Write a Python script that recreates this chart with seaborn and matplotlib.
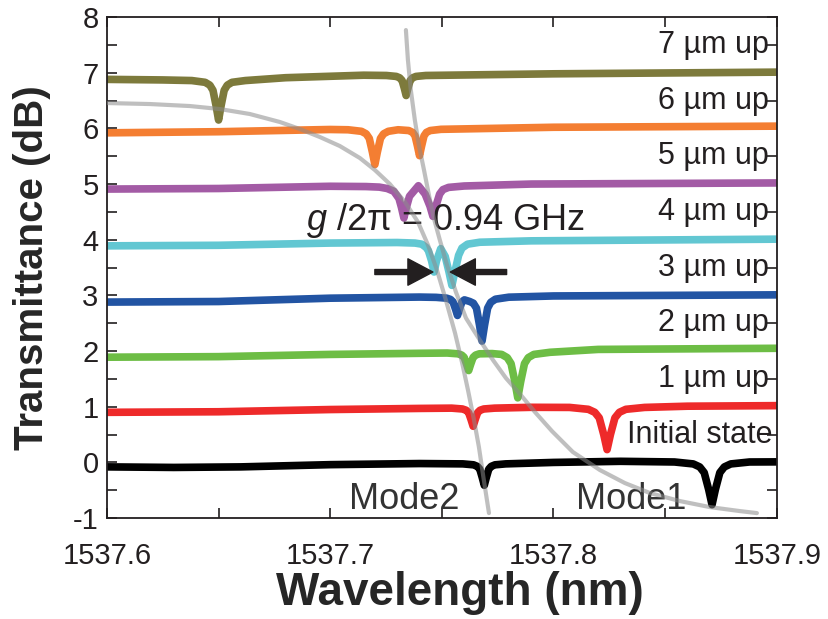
import matplotlib
matplotlib.use('Agg')
import matplotlib.pyplot as plt
import seaborn as sns

# Spectra (wavelength in nm, transmittance in dB, offset by 1 dB per step)
wl_0 = [1537.600, 1537.630, 1537.660, 1537.700, 1537.740, 1537.7594, 1537.7642, 1537.7659, 1537.767, 1537.7681,
        1537.769, 1537.7699, 1537.771, 1537.7721, 1537.7738, 1537.7786, 1537.800, 1537.830, 1537.8542, 1537.8626,
        1537.8655, 1537.8675, 1537.8695, 1537.871, 1537.8725, 1537.8745, 1537.8765, 1537.8794, 1537.8878, 1537.900]
tr_0 = [-0.08, -0.09, -0.08, -0.04, -0.02, -0.026, -0.043, -0.071, -0.121, -0.274,
        -0.41, -0.274, -0.121, -0.071, -0.043, -0.026, 0.00, 0.02, 0.008, -0.027,
        -0.081, -0.183, -0.487, -0.76, -0.487, -0.183, -0.081, -0.027, 0.008, 0.01]

wl_1 = [1537.600, 1537.650, 1537.700, 1537.740, 1537.7544, 1537.7592, 1537.7609, 1537.762, 1537.7631, 1537.764,
        1537.7649, 1537.766, 1537.7671, 1537.7688, 1537.7736, 1537.790, 1537.8072, 1537.8156, 1537.8185, 1537.8205,
        1537.8225, 1537.824, 1537.8255, 1537.8275, 1537.8295, 1537.8324, 1537.8408, 1537.860, 1537.900]
tr_1 = [0.90, 0.91, 0.95, 0.97, 0.975, 0.96, 0.937, 0.894, 0.766, 0.65,
        0.766, 0.894, 0.937, 0.96, 0.975, 0.99, 0.988, 0.954, 0.90, 0.80,
        0.50, 0.23, 0.50, 0.80, 0.90, 0.954, 0.988, 1.01, 1.02]

wl_2 = [1537.600, 1537.650, 1537.700, 1537.740, 1537.7524, 1537.7572, 1537.7589, 1537.760, 1537.7611, 1537.762,
        1537.7629, 1537.764, 1537.7651, 1537.7668, 1537.7725, 1537.7768, 1537.7793, 1537.781, 1537.7827, 1537.784,
        1537.7853, 1537.787, 1537.7887, 1537.7912, 1537.7984, 1537.820, 1537.900]
tr_2 = [1.89, 1.90, 1.94, 1.96, 1.965, 1.951, 1.928, 1.887, 1.762, 1.65,
        1.762, 1.887, 1.928, 1.951, 1.955, 1.940, 1.882, 1.774, 1.450, 1.16,
        1.450, 1.774, 1.882, 1.940, 1.978, 2.03, 2.05]

wl_3 = [1537.600, 1537.650, 1537.700, 1537.740, 1537.7474, 1537.7522, 1537.7539, 1537.755, 1537.7561, 1537.757,
        1537.7579, 1537.759, 1537.7601, 1537.7625, 1537.7641, 1537.7655, 1537.7669, 1537.768, 1537.7691, 1537.7705,
        1537.7719, 1537.774, 1537.780, 1537.800, 1537.900]
tr_3 = [2.88, 2.89, 2.95, 2.97, 2.965, 2.95, 2.927, 2.884, 2.755, 2.64,
        2.755, 2.884, 2.92, 2.89, 2.86, 2.77, 2.46, 2.18, 2.46, 2.772,
        2.876, 2.932, 2.968, 2.99, 3.01]

wl_4 = [1537.600, 1537.650, 1537.700, 1537.730, 1537.738, 1537.741, 1537.743, 1537.744, 1537.7454, 1537.7465,
        1537.7476, 1537.7495, 1537.7515, 1537.7532, 1537.7545, 1537.7558, 1537.7575, 1537.759, 1537.7615, 1537.767,
        1537.790, 1537.900]
tr_4 = [3.89, 3.90, 3.94, 3.95, 3.94, 3.92, 3.86, 3.80, 3.62, 3.42,
        3.62, 3.84, 3.70, 3.42, 3.18, 3.42, 3.72, 3.85, 3.92, 3.955,
        3.98, 4.01]

wl_5 = [1537.600, 1537.650, 1537.700, 1537.716, 1537.722, 1537.7255, 1537.7285, 1537.7308, 1537.7319, 1537.733,
        1537.7341, 1537.7355, 1537.7395, 1537.7425, 1537.7447, 1537.746, 1537.7473, 1537.749, 1537.7505, 1537.753,
        1537.760, 1537.790, 1537.900]
tr_5 = [4.91, 4.92, 4.96, 4.955, 4.945, 4.92, 4.87, 4.74, 4.58, 4.39,
        4.58, 4.78, 4.97, 4.82, 4.60, 4.42, 4.60, 4.82, 4.90, 4.94,
        4.965, 5.00, 5.02]

wl_6 = [1537.600, 1537.650, 1537.700, 1537.708, 1537.714, 1537.7161, 1537.7175, 1537.7189, 1537.720, 1537.7211,
        1537.7225, 1537.7239, 1537.726, 1537.7304, 1537.7352, 1537.7369, 1537.738, 1537.7391, 1537.740, 1537.7409,
        1537.742, 1537.7431, 1537.7448, 1537.7496, 1537.800, 1537.900]
tr_6 = [5.92, 5.94, 5.98, 5.975, 5.947, 5.902, 5.82, 5.572, 5.35, 5.572,
        5.82, 5.902, 5.947, 5.975, 5.961, 5.928, 5.865, 5.678, 5.51, 5.678,
        5.865, 5.928, 5.961, 5.983, 6.02, 6.04]

wl_7 = [1537.600, 1537.625, 1537.638, 1537.644, 1537.6461, 1537.6475, 1537.6489, 1537.650, 1537.6511, 1537.6525,
        1537.6539, 1537.656, 1537.662, 1537.680, 1537.715, 1537.7252, 1537.7296, 1537.7311, 1537.7322, 1537.7332,
        1537.734, 1537.7348, 1537.7358, 1537.7369, 1537.7384, 1537.7428, 1537.800, 1537.900]
tr_7 = [6.88, 6.87, 6.859, 6.827, 6.776, 6.683, 6.402, 6.15, 6.402, 6.683,
        6.776, 6.827, 6.859, 6.91, 6.955, 6.95, 6.933, 6.908, 6.86, 6.718,
        6.59, 6.718, 6.86, 6.908, 6.933, 6.95, 6.98, 7.01]

# Anti-crossing guide curves (gray)
branch_lo_wl = [1537.6000, 1537.6193, 1537.6372, 1537.6506, 1537.6640, 1537.6775, 1537.6864, 1537.6954,
                1537.7043, 1537.7133, 1537.7200, 1537.7267, 1537.7335, 1537.7393, 1537.7438, 1537.7478,
                1537.7518, 1537.7559, 1537.7590, 1537.7617, 1537.7644, 1537.7666, 1537.7688, 1537.7711]
branch_lo_tr = [6.455, 6.437, 6.401, 6.347, 6.258, 6.114, 5.988, 5.844,
                5.683, 5.467, 5.252, 5.000, 4.677, 4.318, 3.904, 3.455,
                2.917, 2.324, 1.803, 1.300, 0.761, 0.276, -0.317, -0.910]
branch_hi_wl = [1537.7339, 1537.7348, 1537.7361, 1537.7379, 1537.7397, 1537.7420, 1537.7442, 1537.7464,
                1537.7491, 1537.7523, 1537.7563, 1537.7608, 1537.7670, 1537.7729, 1537.7787, 1537.7850,
                1537.7917, 1537.7993, 1537.8087, 1537.8208, 1537.8320, 1537.8432, 1537.8566, 1537.8700,
                1537.8835, 1537.8911]
branch_hi_tr = [7.766, 7.228, 6.689, 6.150, 5.701, 5.252, 4.803, 4.390,
                3.994, 3.545, 3.060, 2.593, 2.198, 1.839, 1.515, 1.228,
                0.905, 0.563, 0.186, -0.137, -0.371, -0.550, -0.694, -0.802,
                -0.874, -0.910]

trace_labels = ['Initial state', '1 µm up', '2 µm up', '3 µm up', '4 µm up', '5 µm up', '6 µm up', '7 µm up']
trace_colors = ['#000000', '#ee2a2a', '#6dbd45', '#2254a3', '#62c7d2', '#a35ba5', '#f47e32', '#7d7a3c']
x_ticks = [1537.6, 1537.7, 1537.8, 1537.9]
x_tick_labels = ['1537.6', '1537.7', '1537.8', '1537.9']
y_ticks = [-1, 0, 1, 2, 3, 4, 5, 6, 7, 8]

wls = [wl_0, wl_1, wl_2, wl_3, wl_4, wl_5, wl_6, wl_7]
trs = [tr_0, tr_1, tr_2, tr_3, tr_4, tr_5, tr_6, tr_7]

sns.set_style('ticks')
plt.rcParams['font.family'] = ['Liberation Sans', 'DejaVu Sans']
plt.rcParams['mathtext.fontset'] = 'custom'
plt.rcParams['mathtext.it'] = 'Liberation Sans:italic'
plt.rcParams['mathtext.rm'] = 'Liberation Sans'
txt_col = '#231f20'

fig = plt.figure(figsize=(8.29, 6.19), dpi=100)
ax = fig.add_axes([0.129, 0.163, 0.808, 0.8095])

for wl, tr, col in zip(wls, trs, trace_colors):
    sns.lineplot(x=wl, y=tr, color=col, lw=5.5, estimator=None, sort=False, ax=ax,
                 solid_joinstyle='round', solid_capstyle='round')

# gray guide curves on top, semi transparent
for bw, bt in [(branch_lo_wl, branch_lo_tr), (branch_hi_wl, branch_hi_tr)]:
    sns.lineplot(x=bw, y=bt, color='#8c8c8c', lw=3, alpha=0.55, estimator=None, sort=False, ax=ax, zorder=5,
                 solid_capstyle='round')

# right side labels
for i, lab in enumerate(trace_labels):
    xr = 1537.898 if i == 0 else 1537.8965
    ax.text(xr, i + 0.5, lab, ha='right', va='center', fontsize=22, color=txt_col)

ax.text(1537.689, 4.34, r'$g$ /2π = 0.94 GHz', ha='left', va='center', fontsize=26, color=txt_col)
ax.text(1537.733, -0.66, 'Mode2', ha='center', va='center', fontsize=26, color='#333333')
ax.text(1537.835, -0.66, 'Mode1', ha='center', va='center', fontsize=26, color='#333333')

# coupling arrows
arr = dict(width=3.6, headwidth=19, headlength=18, color=txt_col, shrink=0)
ax.annotate('', xy=(1537.746, 3.42), xytext=(1537.720, 3.42), arrowprops=arr, zorder=6)
ax.annotate('', xy=(1537.7538, 3.42), xytext=(1537.779, 3.42), arrowprops=arr, zorder=6)

ax.set_xlim(1537.6, 1537.9)
ax.set_ylim(-1, 8)
ax.set_xticks(x_ticks)
ax.set_xticklabels(x_tick_labels, fontsize=21)
ax.set_xticks([1537.65, 1537.75, 1537.85], minor=True)
ax.set_yticks(y_ticks)
ax.set_yticklabels([str(v) for v in y_ticks], fontsize=21)
ax.set_yticks([v + 0.5 for v in y_ticks[:-1]], minor=True)
ax.tick_params(which='both', direction='in', top=True, right=True, length=7, width=1.2, colors=txt_col)
ax.tick_params(axis='x', pad=17)
ax.tick_params(axis='y', pad=6)
for s in ax.spines.values():
    s.set_linewidth(1.3)
    s.set_color(txt_col)

ax.set_xlabel('Wavelength (nm)', fontsize=33, fontweight='bold', labelpad=3)
ax.xaxis.set_label_coords(0.527, -0.105)
ax.set_ylabel('Transmittance (dB)', fontsize=29, fontweight='bold', labelpad=16)

fig.savefig('out.png', dpi=100)
